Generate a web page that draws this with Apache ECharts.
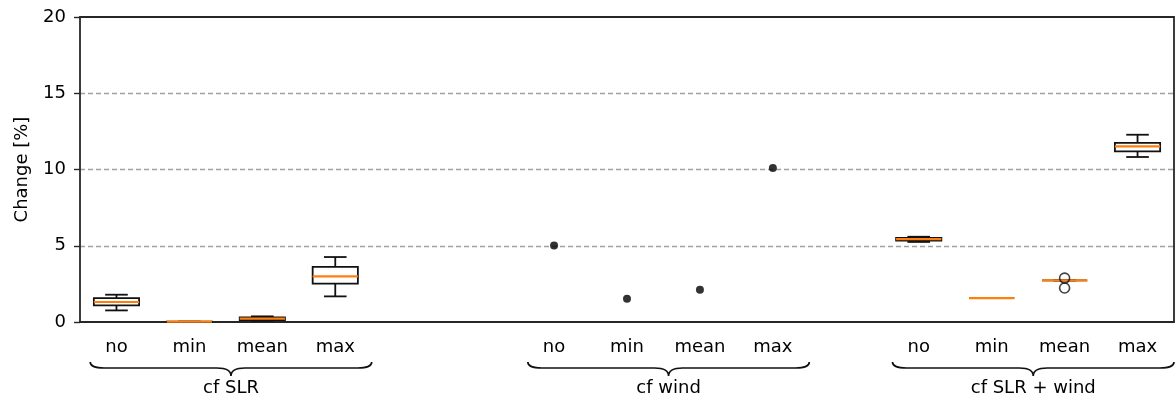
<!DOCTYPE html>
<html>
<head>
<meta charset="utf-8">
<style>
  html, body { margin: 0; padding: 0; background: #fff; }
  #chart { width: 1176px; height: 401px; }
</style>
<script src="https://cdn.jsdelivr.net/npm/echarts@6/dist/echarts.min.js"></script>
</head>
<body>
<div id="chart"></div>
<script>
// Category slots along the x axis; blank slots separate the three groups.
const categories = ['no', 'min', 'mean', 'max', '', '', 'no', 'min', 'mean', 'max', '', 'no', 'min', 'mean', 'max'];

// Groups shown with a brace under the axis: [first slot, last slot]
const groupNames = ['cf SLR', 'cf wind', 'cf SLR + wind'];
const groupSpans = [[0, 3], [6, 9], [11, 14]];

// Box statistics: [slot, lower whisker, Q1, median, Q3, upper whisker]
const slrBoxes = [
  [0, 0.76, 1.09, 1.31, 1.57, 1.79],
  [1, 0.00, 0.01, 0.02, 0.03, 0.03],
  [2, 0.08, 0.13, 0.22, 0.30, 0.37],
  [3, 1.68, 2.51, 2.99, 3.61, 4.26]
];
const slrWindBoxes = [
  [11, 5.25, 5.33, 5.44, 5.52, 5.59],
  [12, 1.57, 1.57, 1.57, 1.57, 1.57],
  [13, 2.73, 2.73, 2.73, 2.73, 2.73],
  [14, 10.82, 11.19, 11.52, 11.74, 12.28]
];
// Outliers: [slot, value]
const slrWindFliers = [[13, 2.88], [13, 2.23]];

// Single values for the wind-only runs: [slot, value]
const windPoints = [[6, 5.02], [7, 1.53], [8, 2.12], [9, 10.10]];

// Y axis ticks
const yTicks = [0, 5, 10, 15, 20];

const FONT = 'DejaVu Sans';
const BOX_FRACTION = 0.62;
const ORANGE = '#ff7f0e';
const AXIS_COLOR = '#262626';

function renderBox(params, api) {
  const slot = api.value(0);
  const band = api.size([1, 0])[0];
  const half = band * BOX_FRACTION / 2;
  const capHalf = half / 2;
  const cx = api.coord([slot, 0])[0];
  const y = i => api.coord([slot, api.value(i)])[1];
  const yLo = y(1), yQ1 = y(2), yMed = y(3), yQ3 = y(4), yHi = y(5);
  const stroke = { stroke: '#111', lineWidth: 1.8, fill: null };
  return {
    type: 'group',
    children: [
      { type: 'line', shape: { x1: cx, y1: yQ1, x2: cx, y2: yLo }, style: stroke },
      { type: 'line', shape: { x1: cx, y1: yQ3, x2: cx, y2: yHi }, style: stroke },
      { type: 'line', shape: { x1: cx - capHalf, y1: yLo, x2: cx + capHalf, y2: yLo }, style: stroke },
      { type: 'line', shape: { x1: cx - capHalf, y1: yHi, x2: cx + capHalf, y2: yHi }, style: stroke },
      { type: 'rect', shape: { x: cx - half, y: yQ3, width: 2 * half, height: yQ1 - yQ3 }, style: stroke },
      { type: 'line', shape: { x1: cx - half, y1: yMed, x2: cx + half, y2: yMed },
        style: { stroke: ORANGE, lineWidth: 2.2, fill: null } }
    ]
  };
}

function renderBrace(params, api) {
  const band = api.size([1, 0])[0];
  const p0 = api.coord([api.value(0), 0]);
  const p1 = api.coord([api.value(1), 0]);
  const base = p0[1];
  const x0 = p0[0] - 0.36 * band;
  const x1 = p1[0] + 0.5 * band;
  const xm = (x0 + x1) / 2;
  const yTop = base + 40, yLine = base + 46, yTip = base + 54;
  const r = 14;
  const d = 'M' + x0 + ',' + yTop +
    ' Q' + x0 + ',' + yLine + ' ' + (x0 + r) + ',' + yLine +
    ' L' + (xm - r) + ',' + yLine +
    ' Q' + xm + ',' + yLine + ' ' + xm + ',' + yTip +
    ' Q' + xm + ',' + yLine + ' ' + (xm + r) + ',' + yLine +
    ' L' + (x1 - r) + ',' + yLine +
    ' Q' + x1 + ',' + yLine + ' ' + x1 + ',' + yTop;
  return {
    type: 'group',
    children: [
      { type: 'path', shape: { pathData: d }, style: { stroke: '#111', lineWidth: 1.7, fill: null } },
      { type: 'text', x: xm, y: base + 66,
        style: { text: groupNames[params.dataIndex], fontFamily: FONT, fontSize: 18,
                 fill: '#000', align: 'center', verticalAlign: 'middle' } }
    ]
  };
}

const chart = echarts.init(document.getElementById('chart'), null, { renderer: 'canvas' });

chart.setOption({
  animation: false,
  backgroundColor: '#fff',
  grid: { left: 80, right: 2, top: 17, bottom: 79 },
  xAxis: [
    {
      type: 'category',
      data: categories,
      boundaryGap: true,
      axisLine: { onZero: false, lineStyle: { color: AXIS_COLOR, width: 1.8 } },
      axisTick: { alignWithLabel: true, length: 6, interval: (i, v) => v !== '',
                  lineStyle: { color: AXIS_COLOR, width: 1.4 } },
      axisLabel: { interval: 0, margin: 16, fontFamily: FONT, fontSize: 18, color: '#000' },
      splitLine: { show: false }
    },
    {
      type: 'value', position: 'top', min: 0, max: 1,
      axisLine: { show: true, onZero: false, lineStyle: { color: AXIS_COLOR, width: 1.8 } },
      axisTick: { show: false }, axisLabel: { show: false }, splitLine: { show: false }
    }
  ],
  yAxis: [
    {
      type: 'value',
      min: yTicks[0], max: yTicks[yTicks.length - 1], interval: 5,
      name: 'Change [%]', nameLocation: 'middle', nameGap: 49,
      nameTextStyle: { fontFamily: FONT, fontSize: 18, color: '#000' },
      axisLine: { show: true, onZero: false, lineStyle: { color: AXIS_COLOR, width: 1.8 } },
      axisTick: { show: true, length: 6, lineStyle: { color: AXIS_COLOR, width: 1.4 } },
      axisLabel: { margin: 14, fontFamily: FONT, fontSize: 18, color: '#000' },
      splitLine: { show: true, showMinLine: false, showMaxLine: false,
                   lineStyle: { color: '#a0a0a0', width: 1.3, type: [5, 3] } }
    },
    {
      type: 'value', position: 'right', min: 0, max: 1,
      axisLine: { show: true, onZero: false, lineStyle: { color: AXIS_COLOR, width: 1.8 } },
      axisTick: { show: false }, axisLabel: { show: false }, splitLine: { show: false }
    }
  ],
  series: [
    { type: 'custom', name: 'cf SLR', renderItem: renderBox, data: slrBoxes, z: 5 },
    { type: 'custom', name: 'cf SLR + wind', renderItem: renderBox, data: slrWindBoxes, z: 5 },
    {
      type: 'scatter', name: 'cf SLR + wind fliers', data: slrWindFliers, symbol: 'circle', symbolSize: 10,
      itemStyle: { color: 'rgba(0,0,0,0)', borderColor: '#111', borderWidth: 1.6 }, z: 6
    },
    {
      type: 'scatter', name: 'cf wind', data: windPoints, symbol: 'circle', symbolSize: 8,
      itemStyle: { color: '#000' }, z: 6
    },
    { type: 'custom', name: 'groups', renderItem: renderBrace, clip: false,
      data: groupSpans, silent: true, z: 7 }
  ]
});
</script>
</body>
</html>
